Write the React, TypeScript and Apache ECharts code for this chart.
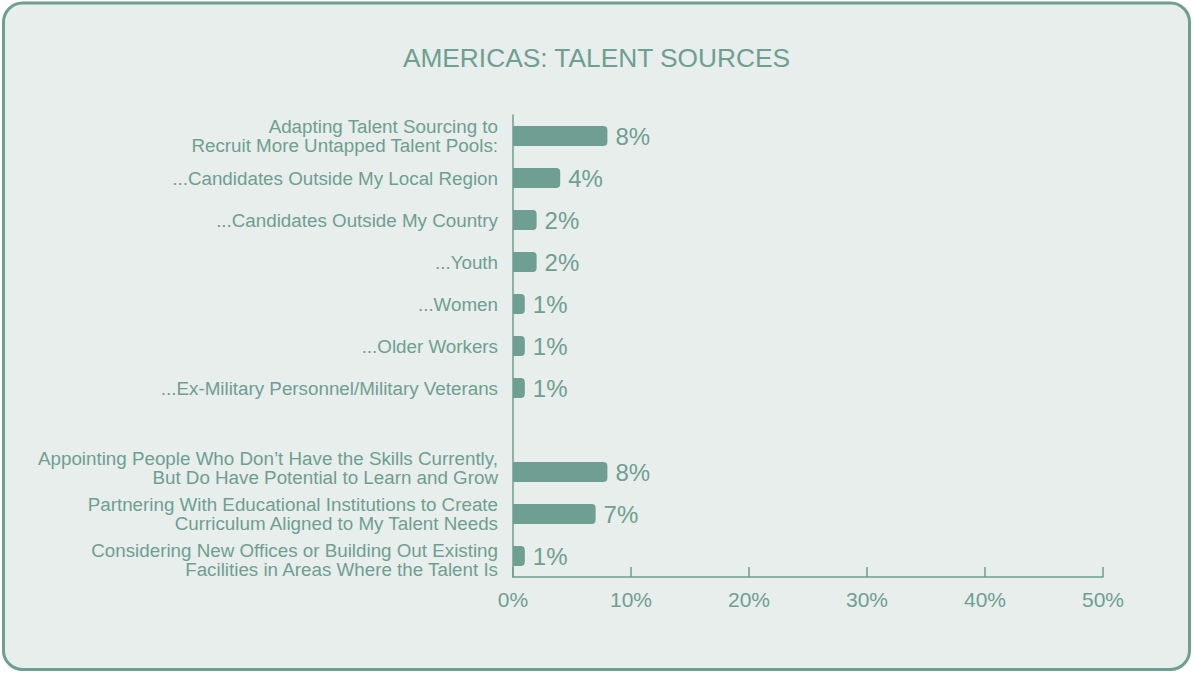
import React, { useEffect, useRef } from "react";
import * as echarts from "echarts";

const categories = [
  "Adapting Talent Sourcing to\nRecruit More Untapped Talent Pools:",
  "...Candidates Outside My Local Region",
  "...Candidates Outside My Country",
  "...Youth",
  "...Women",
  "...Older Workers",
  "...Ex-Military Personnel/Military Veterans",
  "",
  "Appointing People Who Don’t Have the Skills Currently,\nBut Do Have Potential to Learn and Grow",
  "Partnering With Educational Institutions to Create\nCurriculum Aligned to My Talent Needs",
  "Considering New Offices or Building Out Existing\nFacilities in Areas Where the Talent Is",
];
const values: (number | null)[] = [8, 4, 2, 2, 1, 1, 1, null, 8, 7, 1];
const xTicks = [0, 10, 20, 30, 40, 50];

const GREEN = "#6f9e92";
const BG = "#e7eeeb";

export default function App() {
  const ref = useRef<HTMLDivElement>(null);
  useEffect(() => {
    document.body.style.margin = "0";
    const chart = echarts.init(ref.current!, undefined, { renderer: "svg" });
    chart.setOption({
      animation: false,
      backgroundColor: "transparent",
      textStyle: { fontFamily: "Liberation Sans, Arial, sans-serif" },
      title: {
        text: "AMERICAS: TALENT SOURCES",
        left: "center",
        top: 40,
        textStyle: { color: GREEN, fontSize: 26.3, fontWeight: "normal", fontFamily: "Liberation Sans" },
      },
      graphic: [
        {
          type: "rect",
          z: -10,
          shape: { x: 3.5, y: 3, width: 1186, height: 666.5, r: 19 },
          style: { fill: BG, stroke: GREEN, lineWidth: 3 },
        },
      ],
      grid: { left: 513, right: 90, top: 115, bottom: 96 },
      xAxis: {
        type: "value",
        min: xTicks[0],
        max: xTicks[xTicks.length - 1],
        interval: 10,
        axisLine: { show: true, lineStyle: { color: GREEN, width: 1.5 } },
        axisTick: { show: true, inside: true, length: 10, lineStyle: { color: GREEN, width: 1.5 } },
        splitLine: { show: false },
        axisLabel: { color: GREEN, fontSize: 21, margin: 12, formatter: "{value}%" },
      },
      yAxis: {
        type: "category",
        data: categories,
        inverse: true,
        axisLine: { show: true, lineStyle: { color: GREEN, width: 1.5 } },
        axisTick: { show: false },
        axisLabel: {
          color: GREEN,
          fontSize: 18.8,
          margin: 15,
          lineHeight: 19,
          align: "right",
          formatter: (v: string, i: number) => {
            if (!v) return "";
            const lines = v.split("\n").map((l) => "{a|" + l + "}");
            if (i === 8) lines.push("{s| }");
            if (i === 10) lines.unshift("{s| }");
            return lines.join("\n");
          },
          rich: {
            a: { color: GREEN, fontSize: 18.8, lineHeight: 19, align: "right" },
            s: { fontSize: 4, lineHeight: 8, align: "right" },
          },
        },
      },
      series: [
        {
          type: "bar",
          data: values,
          barWidth: 20,
          itemStyle: { color: GREEN, borderRadius: [0, 4, 4, 0] },
          label: {
            show: true,
            position: "right",
            distance: 8,
            color: GREEN,
            fontSize: 24,
            formatter: (p: any) => (p.value == null ? "" : p.value + "%"),
          },
        },
      ],
    });
    return () => chart.dispose();
  }, []);
  return <div ref={ref} style={{ width: 1193, height: 673, background: "#ffffff" }} />;
}
